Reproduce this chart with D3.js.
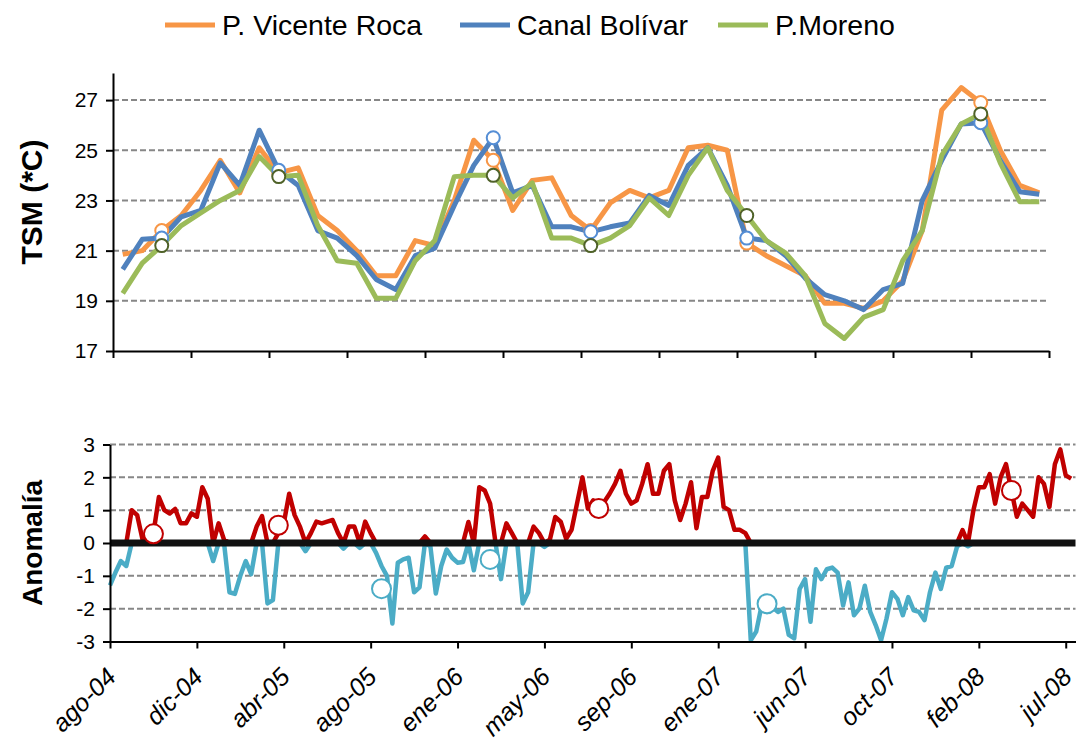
<!DOCTYPE html>
<html>
<head>
<meta charset="utf-8">
<script src="https://cdn.jsdelivr.net/npm/d3@7"></script>
<style>
  body { margin: 0; background: #fff; }
  svg text { font-family: "Liberation Sans", Arial, sans-serif; fill: #000; }
  .grid line { stroke: #878787; stroke-width: 2; stroke-dasharray: 6,3; }
  .axis path, .axis line { stroke: #000; stroke-width: 2; }
</style>
</head>
<body>
<div id="chart"></div>
<script>
// monthly SST (ago-04 .. jul-08)
const vicenteRoca = [20.85, 21.0, 21.8, 22.4, 23.4, 24.6, 23.3, 25.1, 24.1, 24.3, 22.4, 21.8,
  21.0, 20.0, 20.0, 21.4, 21.2, 23.0, 25.4, 24.6, 22.6, 23.8, 23.9, 22.4,
  21.8, 22.9, 23.4, 23.1, 23.4, 25.1, 25.2, 25.0, 21.3, 20.8, 20.4, 20.0,
  18.9, 18.9, 18.7, 19.0, 19.8, 21.8, 26.6, 27.5, 26.9, 25.0, 23.6, 23.3];
const canalBolivar = [20.25, 21.45, 21.5, 22.35, 22.6, 24.5, 23.6, 25.8, 24.2, 23.6, 21.8, 21.5,
  20.8, 19.85, 19.45, 20.8, 21.1, 22.8, 24.4, 25.5, 23.3, 23.6, 21.95, 21.95,
  21.75, 21.95, 22.1, 23.2, 22.8, 24.4, 25.1, 23.6, 21.5, 21.4, 20.8, 19.9,
  19.25, 19.0, 18.65, 19.45, 19.7, 23.0, 24.6, 26.05, 26.1, 24.6, 23.35, 23.25];
const pMoreno = [19.3, 20.5, 21.2, 22.0, 22.5, 23.0, 23.4, 24.75, 23.95, 24.0, 22.0, 20.6,
  20.5, 19.1, 19.1, 20.6, 21.4, 23.95, 24.0, 24.0, 23.1, 23.7, 21.5, 21.5,
  21.2, 21.5, 22.0, 23.1, 22.4, 24.0, 25.1, 23.4, 22.4, 21.4, 20.9, 20.0,
  18.1, 17.5, 18.35, 18.65, 20.6, 21.8, 24.8, 26.05, 26.45, 24.5, 22.95, 22.95];
const topMarkerIdx = [2, 8, 19, 24, 32, 44];
const seriesNames = ['P. Vicente Roca', 'Canal Bolívar', 'P.Moreno'];
const tsmTicks = [17, 19, 21, 23, 25, 27];

// 8-day anomaly
const anomaly = [-1.29, -0.9, -0.55, -0.7, 1.0, 0.85, 0.1, 0.15, 0.3, 1.4,
  1.0, 0.9, 1.04, 0.6, 0.6, 0.9, 0.8, 1.7, 1.35, -0.55,
  0.6, 0.1, -1.5, -1.55, -1.0, -0.55, -0.95, 0.5, 0.82, -1.84,
  -1.74, 0.3, 0.6, 1.5, 0.85, 0.49, -0.25, 0.3, 0.65, 0.6,
  0.65, 0.7, 0.3, -0.17, 0.5, 0.5, -0.15, 0.65, 0.3, -0.3,
  -0.7, -1.0, -2.45, -0.6, -0.5, -0.45, -1.5, -1.35, 0.2, -0.1,
  -1.54, -0.7, -0.2, -0.45, -0.6, -0.58, 0.64, -0.83, 1.7, 1.6,
  1.2, 0.0, -1.1, 0.6, 0.3, 0.0, -1.84, -1.5, 0.5, 0.3,
  -0.12, 0.1, 0.79, 0.65, 0.13, 0.4, 1.2, 2.0, 1.05, 1.3,
  1.05, 1.25, 1.5, 1.8, 2.2, 1.5, 1.2, 1.3, 1.8, 2.4,
  1.5, 1.5, 2.2, 2.4, 1.3, 0.7, 1.2, 1.85, 0.45, 1.4,
  1.4, 2.2, 2.6, 1.1, 1.0, 0.4, 0.4, 0.3, -2.96, -2.7,
  -1.9, -2.1, -1.95, -2.1, -2.0, -2.8, -2.9, -1.4, -1.1, -2.4,
  -0.8, -1.1, -0.8, -0.75, -0.9, -1.9, -1.2, -2.2, -2.0, -1.3,
  -2.1, -2.5, -2.96, -2.3, -1.5, -1.7, -2.2, -1.65, -2.05, -2.1,
  -2.35, -1.5, -0.9, -1.4, -0.75, -0.7, -0.1, 0.39, -0.1, 1.0,
  1.7, 1.7, 2.1, 1.2, 2.0, 2.4, 1.6, 0.8, 1.2, 1.0,
  0.8, 2.0, 1.8, 1.1, 2.4, 2.85, 2.06, 1.96];
const anomMarkerIdx = [8, 31, 50, 70, 90, 121, 166];
const anomMarkerVal = [0.28, 0.54, -1.39, -0.5, 1.05, -1.85, 1.6];
const dateLabels = ['ago-04', 'dic-04', 'abr-05', 'ago-05', 'ene-06', 'may-06',
  'sep-06', 'ene-07', 'jun-07', 'oct-07', 'feb-08', 'jul-08'];
const anomTicks = [-3, -2, -1, 0, 1, 2, 3];


/**
 * TSM + anomaly chart.
 * @class
 */
class TsmChart {

  constructor() {

    this._width = 1079;
    this._height = 742;
    this._colors = ['#F79646', '#4F81BD', '#9BBB59'];
    this._markerStroke = ['#F79646', '#558ED5', '#4F6228'];
    this._pos = '#C00000';
    this._neg = '#4BACC6';
  }


  renderTo(selector) {

    this._svg = d3.select(selector)
      .append('svg')
      .attr('width', this._width)
      .attr('height', this._height);

    this._svg.append('rect')
      .attr('width', this._width)
      .attr('height', this._height)
      .style('fill', '#fff');

    this._drawLegend();
    this._drawTop();
    this._drawBottom();

    return this;
  }


  _drawLegend() {

    const items = [165, 460, 718];

    const g = this._svg.append('g')
      .selectAll('g')
      .data(seriesNames)
      .enter()
      .append('g')
      .attr('transform', (d, i) => 'translate(' + [items[i], 25] + ')');

    g.append('line')
      .attr('x1', 0)
      .attr('x2', 50)
      .style('stroke', (d, i) => this._colors[i])
      .style('stroke-width', 5);

    g.append('text')
      .attr('x', 57)
      .attr('dy', '0.36em')
      .style('font-size', '28.5px')
      .text(d => d);
  }


  _styleTicks(axis) {

    axis.selectAll('text')
      .style('font-size', '21px')
      .style('font-family', '"Liberation Sans", Arial, sans-serif');
  }


  _drawTop() {

    const x = d3.scaleLinear().domain([0, 48]).range([113, 1049]);
    const y = d3.scaleLinear().domain([17, 28.08]).range([351, 73]);

    this._svg.append('g')
      .attr('class', 'grid')
      .selectAll('line')
      .data(tsmTicks.slice(1))
      .enter()
      .append('line')
      .attr('x1', x(0))
      .attr('x2', x(48))
      .attr('y1', d => y(d))
      .attr('y2', d => y(d));

    const line = d3.line()
      .x((d, i) => x(i + 0.5))
      .y(d => y(d));

    const series = [vicenteRoca, canalBolivar, pMoreno];

    this._svg.append('g')
      .selectAll('path')
      .data(series)
      .enter()
      .append('path')
      .attr('d', line)
      .style('fill', 'none')
      .style('stroke', (d, i) => this._colors[i])
      .style('stroke-width', 5)
      .style('stroke-linejoin', 'round');

    series.forEach((s, k) => {
      this._svg.append('g')
        .selectAll('circle')
        .data(topMarkerIdx)
        .enter()
        .append('circle')
        .attr('cx', d => x(d + 0.5))
        .attr('cy', d => y(s[d]))
        .attr('r', 6.5)
        .style('fill', '#fff')
        .style('stroke', this._markerStroke[k])
        .style('stroke-width', 2);
    });

    const yAxis = this._svg.append('g')
      .attr('class', 'axis')
      .attr('transform', 'translate(113,0)')
      .call(d3.axisLeft(y).tickValues(tsmTicks).tickSize(7).tickSizeOuter(0).tickPadding(8));

    this._styleTicks(yAxis);

    this._svg.append('g')
      .attr('class', 'axis')
      .attr('transform', 'translate(0,351)')
      .call(d3.axisBottom(x).tickValues(d3.range(0, 49, 4)).tickSize(7).tickSizeOuter(0).tickFormat(''));

    this._svg.append('text')
      .attr('transform', 'translate(42,202) rotate(-90)')
      .attr('text-anchor', 'middle')
      .style('font-size', '30px')
      .style('font-weight', 'bold')
      .text('TSM (*C)');
  }


  _drawBottom() {

    const x = d3.scaleLinear().domain([0, 177.8]).range([110, 1075.5]);
    const y = d3.scaleLinear().domain([-3, 3]).range([641.5, 444.5]);

    this._svg.append('g')
      .attr('class', 'grid')
      .selectAll('line')
      .data([-2, -1, 1, 2, 3])
      .enter()
      .append('line')
      .attr('x1', x(0))
      .attr('x2', x(177.8))
      .attr('y1', d => y(d))
      .attr('y2', d => y(d));

    const line = d3.line()
      .x((d, i) => x(i))
      .y(d => y(d));

    this._svg.append('path')
      .attr('d', line(anomaly.map(v => Math.min(v, 0))))
      .style('fill', 'none')
      .style('stroke', this._neg)
      .style('stroke-width', 4.5)
      .style('stroke-linejoin', 'round');

    this._svg.append('path')
      .attr('d', line(anomaly.map(v => Math.max(v, 0))))
      .style('fill', 'none')
      .style('stroke', this._pos)
      .style('stroke-width', 4.5)
      .style('stroke-linejoin', 'round');

    this._svg.append('line')
      .attr('x1', x(0))
      .attr('x2', x(177.8))
      .attr('y1', y(0))
      .attr('y2', y(0))
      .style('stroke', '#111')
      .style('stroke-width', 7);

    this._svg.append('g')
      .selectAll('circle')
      .data(anomMarkerIdx)
      .enter()
      .append('circle')
      .attr('cx', d => x(d))
      .attr('cy', (d, i) => y(anomMarkerVal[i]))
      .attr('r', 9.5)
      .style('fill', '#fff')
      .style('stroke', (d, i) => anomMarkerVal[i] > 0 ? this._pos : this._neg)
      .style('stroke-width', 2);

    const yAxis = this._svg.append('g')
      .attr('class', 'axis')
      .attr('transform', 'translate(110,0)')
      .call(d3.axisLeft(y).tickValues(anomTicks).tickSize(7).tickSizeOuter(0).tickPadding(8)
        .tickFormat(d => String(d)));

    this._styleTicks(yAxis);

    const xAxis = this._svg.append('g')
      .attr('class', 'axis')
      .attr('transform', 'translate(0,641.5)')
      .call(d3.axisBottom(x).tickValues(d3.range(0, 177, 16)).tickSize(7).tickSizeOuter(0)
        .tickFormat((d, i) => dateLabels[i]));

    xAxis.selectAll('text')
      .attr('transform', 'translate(7,37) rotate(-45)')
      .attr('x', 0)
      .attr('y', 0)
      .attr('dy', 0)
      .attr('text-anchor', 'end')
      .style('font-size', '25px')
      .style('font-style', 'italic')
      .style('font-family', '"Liberation Sans", Arial, sans-serif');

    this._svg.append('text')
      .attr('transform', 'translate(42,543) rotate(-90)')
      .attr('text-anchor', 'middle')
      .style('font-size', '28px')
      .style('font-weight', 'bold')
      .text('Anomalía');
  }
}

new TsmChart().renderTo('#chart');
</script>
</body>
</html>
